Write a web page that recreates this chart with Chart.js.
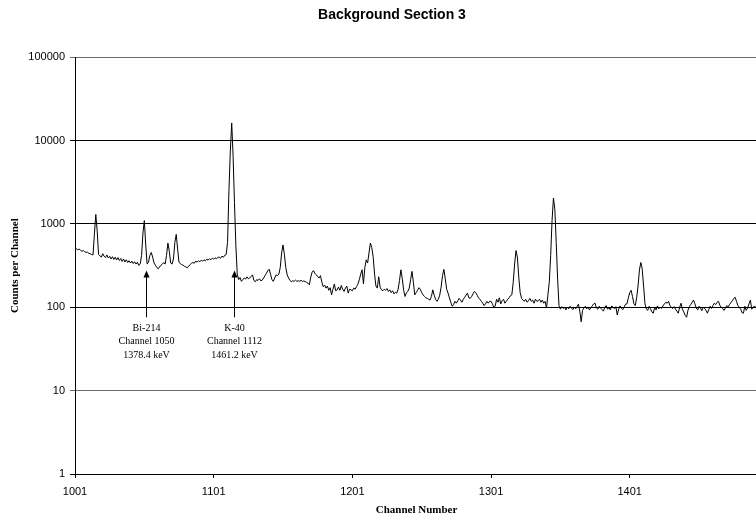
<!DOCTYPE html>
<html>
<head>
<meta charset="utf-8">
<script src="https://cdn.jsdelivr.net/npm/chart.js@4.4.1/dist/chart.umd.min.js"></script>
<style>
  html, body { margin: 0; padding: 0; background: #fff; overflow: hidden; }
  #wrap { width: 784px; height: 518px; }
</style>
</head>
<body>
<div id="wrap"><canvas id="c" width="784" height="518"></canvas></div>
<script>
const chartTitle = 'Background Section 3';
const xAxisTitle = 'Channel Number';
const yAxisTitle = 'Counts per Channel';
const startChannel = 1001;
const xMin = 1001;
const xMax = 1493.5;
const xTickValues = [1001, 1101, 1201, 1301, 1401];
const yTickValues = [1, 10, 100, 1000, 10000, 100000];

// counts per channel, channel 1001 onward
const counts = [
  510, 505, 490, 500, 485, 470, 480, 465, 455, 460,
  445, 440, 430, 425, 760, 1300, 820, 430, 415, 400,
  440, 410, 395, 425, 390, 410, 380, 405, 375, 400,
  370, 395, 365, 385, 355, 380, 350, 372, 345, 362,
  340, 358, 335, 352, 330, 348, 318, 330, 420, 780,
  1100, 560, 330, 350, 420, 455, 400, 340, 320, 300,
  290, 305, 320, 330, 345, 330, 420, 590, 470, 340,
  330, 380, 600, 750, 500, 345, 335, 325, 320, 310,
  305, 298, 312, 325, 338, 345, 338, 358, 348, 362,
  352, 368, 358, 372, 362, 378, 368, 383, 372, 388,
  378, 393, 382, 398, 400, 388, 412, 398, 422, 430,
  600, 2500, 7500, 16300, 6500, 1800, 550, 250, 215, 228,
  205, 215, 225, 218, 232, 220, 225, 235, 245, 210,
  203, 215, 210, 220, 208, 212, 225, 240, 255, 275,
  287, 250, 215, 205, 225, 245, 240, 250, 300, 450,
  560, 430, 300, 245, 225, 210, 203, 208, 205, 212,
  205, 208, 206, 210, 205, 207, 203, 200, 195, 186,
  230, 265, 276, 255, 245, 233, 225, 240, 200, 177,
  185, 170, 180, 160, 172, 141, 165, 190, 158, 162,
  175, 160, 183, 165, 155, 170, 180, 148, 165, 162,
  158, 170, 165, 177, 190, 214, 250, 282, 191, 300,
  371, 340, 450, 590, 520, 405, 250, 180, 170, 233,
  175, 162, 158, 165, 160, 168, 155, 162, 150, 158,
  145, 152, 148, 165, 210, 282, 220, 160, 135, 150,
  155, 170, 215, 270, 200, 141, 150, 160, 172, 165,
  150, 141, 135, 130, 128, 125, 122, 135, 162, 140,
  125, 118, 125, 140, 175, 240, 285, 220, 165, 148,
  130, 115, 103, 108, 118, 112, 120, 128, 122, 115,
  125, 132, 140, 148, 130, 128, 135, 145, 155, 150,
  140, 130, 125, 118, 112, 105, 110, 118, 112, 118,
  118, 110, 100, 103, 125, 115, 130, 110, 120, 125,
  112, 118, 125, 130, 138, 141, 200, 330, 480, 400,
  230, 150, 128, 122, 118, 125, 115, 120, 128, 118,
  122, 112, 125, 118, 120, 125, 115, 122, 112, 118,
  98, 140, 200, 420, 1100, 2050, 1500, 600, 220, 105,
  95, 102, 97, 100, 93, 101, 96, 103, 98, 94,
  100, 96, 102, 109, 90, 67, 92, 98, 103, 96,
  100, 93, 99, 104, 110, 112, 98, 95, 103, 98,
  94, 90, 100, 105, 95, 99, 93, 104, 100, 96,
  102, 81, 95, 104, 98, 94, 101, 109, 110, 130,
  150, 160, 135, 110, 105, 130, 180, 280, 345, 290,
  180, 110, 95, 92, 103, 96, 88, 85, 100, 93,
  104, 96, 100, 97, 104, 110, 115, 112, 118, 105,
  100, 97, 102, 95, 90, 85, 100, 112, 95, 88,
  80, 76, 92, 102, 108, 115, 122, 110, 98, 93,
  103, 98, 91, 100, 97, 92, 85, 94, 103, 97,
  105, 112, 108, 115, 118, 106, 100, 97, 92, 98,
  105, 101, 108, 114, 120, 128, 132, 118, 105, 100,
  95, 86, 85, 103, 92, 98, 110, 122, 95, 100,
  104, 98, 102, 97
];

// peak annotations: x anchor on the channel axis, arrow tip / tail counts, label lines
const annotationX = [1052.4, 1115.5];
const annotationTip = [276, 276];
const annotationTail = [76, 76];
const annotationText = [
  ['Bi-214', 'Channel 1050', '1378.4 keV'],
  ['K-40', 'Channel 1112', '1461.2 keV']
];

const points = counts.map((v, i) => ({ x: startChannel + i, y: v }));

const annotationPlugin = {
  id: 'peakArrows',
  afterDatasetsDraw(chart) {
    const ctx = chart.ctx;
    const xs = chart.scales.x, ys = chart.scales.y;
    ctx.save();
    ctx.fillStyle = '#000';
    ctx.strokeStyle = '#000';
    ctx.lineWidth = 1;
    annotationX.forEach((ax, i) => {
      const px = Math.round(xs.getPixelForValue(ax)) + 0.5;
      const tip = ys.getPixelForValue(annotationTip[i]);
      const tail = ys.getPixelForValue(annotationTail[i]);
      ctx.beginPath();
      ctx.moveTo(px, tip + 5);
      ctx.lineTo(px, tail);
      ctx.stroke();
      ctx.beginPath();
      ctx.moveTo(px, tip);
      ctx.lineTo(px - 3, tip + 7);
      ctx.lineTo(px + 3, tip + 7);
      ctx.closePath();
      ctx.fill();
      ctx.font = '10px "Times New Roman", "Liberation Serif", serif';
      ctx.textAlign = 'center';
      ctx.textBaseline = 'middle';
      annotationText[i].forEach((t, j) => {
        ctx.fillText(t, px, tail + 11 + j * 13.5);
      });
    });
    ctx.restore();
  }
};

new Chart(document.getElementById('c'), {
  type: 'line',
  data: {
    datasets: [{
      data: points,
      borderColor: '#000',
      borderWidth: 1,
      pointRadius: 0,
      tension: 0,
      fill: false
    }]
  },
  plugins: [annotationPlugin],
  options: {
    responsive: false,
    animation: false,
    devicePixelRatio: 1,
    layout: { padding: 0 },
    plugins: {
      legend: { display: false },
      tooltip: { enabled: false },
      title: {
        display: true,
        text: chartTitle,
        color: '#000',
        font: { family: 'Arial, "Liberation Sans", sans-serif', size: 14, weight: 'bold' },
        padding: { top: 7, bottom: 33.5 }
      }
    },
    scales: {
      x: {
        type: 'linear',
        min: xMin,
        max: xMax,
        afterFit(scale) { scale.height = 44; },
        afterBuildTicks(scale) { scale.ticks = xTickValues.map(v => ({ value: v })); },
        ticks: {
          color: '#000',
          padding: 7,
          maxRotation: 0,
          autoSkip: false,
          font: { family: 'Arial, "Liberation Sans", sans-serif', size: 11 },
          callback: v => String(v)
        },
        grid: { drawOnChartArea: false, drawTicks: true, tickLength: 4, color: '#000' },
        border: { display: true, color: '#000', width: 1 },
        title: {
          display: true,
          text: xAxisTitle,
          color: '#000',
          font: { family: '"Times New Roman", "Liberation Serif", serif', size: 11, weight: 'bold' },
          padding: { top: 0, bottom: 1 }
        }
      },
      y: {
        type: 'logarithmic',
        min: 1,
        max: 100000,
        afterFit(scale) { scale.width = 75; },
        afterBuildTicks(scale) { scale.ticks = yTickValues.map(v => ({ value: v, major: true })); },
        ticks: {
          color: '#000',
          padding: 5,
          autoSkip: false,
          font: { family: 'Arial, "Liberation Sans", sans-serif', size: 11 },
          callback: v => String(v)
        },
        grid: {
          drawOnChartArea: true,
          drawTicks: true,
          tickLength: 5,
          color: ctx => (ctx.tick && (ctx.tick.value === 100000 || ctx.tick.value === 10)) ? '#6a6a6a' : '#000',
          lineWidth: 1
        },
        border: { display: true, color: '#000', width: 1 },
        title: {
          display: true,
          text: yAxisTitle,
          color: '#000',
          font: { family: '"Times New Roman", "Liberation Serif", serif', size: 11, weight: 'bold' },
          padding: { top: 9, bottom: 0 }
        }
      },
      spacer: {
        type: 'linear',
        position: 'right',
        display: true,
        min: 0,
        max: 1,
        afterFit(scale) { scale.width = 26; },
        grid: { display: false, drawOnChartArea: false, drawTicks: false },
        border: { display: false },
        ticks: { display: false }
      }
    }
  }
});
</script>
</body>
</html>
